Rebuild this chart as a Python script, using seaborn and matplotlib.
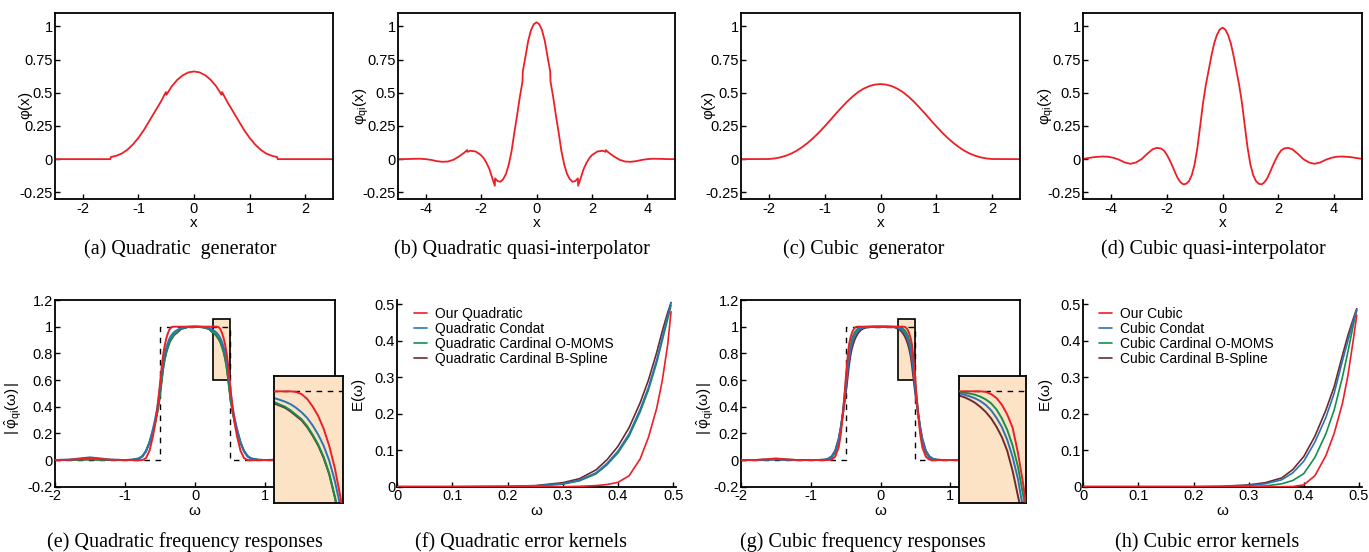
import numpy as np
import matplotlib
matplotlib.use("Agg")
import matplotlib.pyplot as plt
from matplotlib.patches import Rectangle
import seaborn as sns

X_QGEN = [0, 0.1, 0.2, 0.3, 0.4, 0.495, 0.505, 0.6, 0.7, 0.8, 0.9, 1.0, 1.1, 1.2, 1.3, 1.4, 1.495, 1.505, 2.5]
Y_QGEN = [0.66, 0.653, 0.632, 0.597, 0.548, 0.485, 0.505, 0.43, 0.36, 0.29, 0.22, 0.16, 0.11, 0.07, 0.042, 0.025, 0.016, 0.0, 0.0]

X_QQI = [0, 0.1, 0.2, 0.3, 0.4, 0.495, 0.505, 0.6, 0.7, 0.8, 0.9, 1.0, 1.1, 1.2, 1.3, 1.4, 1.495, 1.505,
         1.6, 1.7, 1.8, 1.9, 2.0, 2.2, 2.4, 2.495, 2.505, 2.6, 2.8, 3.0, 3.2, 3.4, 3.6, 3.8, 4.0, 4.2, 4.5, 4.8, 5.0]
Y_QQI = [1.03, 1.015, 0.97, 0.89, 0.77, 0.66, 0.585, 0.47, 0.33, 0.2, 0.06, -0.04, -0.11, -0.15, -0.17, -0.165, -0.145, -0.2,
         -0.14, -0.075, -0.03, 0.005, 0.03, 0.058, 0.063, 0.055, 0.068, 0.05, 0.02, -0.005, -0.018, -0.02, -0.015, -0.006, 0.0, 0.003, 0.002, 0.0, 0.0]

X_CGEN = [0, 0.1, 0.2, 0.3, 0.4, 0.5, 0.6, 0.7, 0.8, 0.9, 1.0, 1.1, 1.2, 1.3, 1.4, 1.5, 1.6, 1.7, 1.8, 1.9, 2.0, 2.5]
Y_CGEN = [0.565, 0.561, 0.55, 0.531, 0.505, 0.471, 0.432, 0.388, 0.342, 0.294, 0.247, 0.202, 0.161, 0.124, 0.092, 0.064,
          0.042, 0.025, 0.013, 0.005, 0.001, 0.0]

X_CQI = [0, 0.1, 0.2, 0.3, 0.4, 0.5, 0.6, 0.7, 0.8, 0.9, 1.0, 1.1, 1.2, 1.3, 1.4, 1.5, 1.6, 1.7, 1.8, 1.9, 2.0, 2.1, 2.2,
         2.35, 2.5, 2.7, 2.9, 3.1, 3.3, 3.5, 3.7, 3.9, 4.1, 4.3, 4.6, 5.0]
Y_CQI = [0.99, 0.975, 0.935, 0.87, 0.775, 0.665, 0.555, 0.42, 0.25, 0.085, -0.04, -0.12, -0.165, -0.185, -0.19, -0.175, -0.145,
         -0.1, -0.05, -0.005, 0.035, 0.065, 0.08, 0.085, 0.075, 0.04, 0.0, -0.025, -0.035, -0.025, -0.005, 0.01, 0.018, 0.02, 0.015, 0.002]

# ---- (e),(g) frequency responses |phi_qi(w)|, w >= 0 (even)
W_FREQ = [0, 0.1, 0.2, 0.25, 0.27, 0.29, 0.31, 0.33, 0.35, 0.37, 0.39, 0.41, 0.43, 0.45, 0.47, 0.49, 0.51, 0.54, 0.57,
          0.6, 0.65, 0.7, 0.75, 0.8, 0.9, 1.0, 1.2, 1.35, 1.5, 1.65, 1.8, 2.0]
Q_OURS = [1.0, 1.0, 1.0, 1.0, 1.0, 1.0, 1.0, 0.998, 0.99, 0.973, 0.946, 0.912, 0.866, 0.805, 0.727, 0.625, 0.52, 0.375, 0.265,
          0.18, 0.07, 0.015, 0.0, -0.002, 0.0, 0.0, 0.002, 0.008, 0.015, 0.008, 0.002, 0.0]
Q_CONDAT = [1.0, 0.999, 0.99, 0.976, 0.97, 0.963, 0.954, 0.941, 0.925, 0.905, 0.878, 0.845, 0.805, 0.752, 0.681, 0.59, 0.50,
            0.39, 0.305, 0.235, 0.135, 0.065, 0.027, 0.01, 0.001, 0.0, 0.003, 0.012, 0.02, 0.012, 0.003, 0.0]
Q_OMOMS = [1.0, 0.998, 0.985, 0.962, 0.953, 0.945, 0.932, 0.916, 0.90, 0.876, 0.845, 0.81, 0.765, 0.706, 0.625, 0.535, 0.45,
           0.355, 0.28, 0.22, 0.13, 0.068, 0.03, 0.012, 0.002, 0.0, 0.0, 0.002, 0.005, 0.002, 0.0, 0.0]
Q_BSPL = [1.0, 0.997, 0.982, 0.957, 0.949, 0.941, 0.928, 0.912, 0.896, 0.872, 0.841, 0.806, 0.761, 0.703, 0.622, 0.532, 0.448,
          0.353, 0.279, 0.22, 0.13, 0.068, 0.03, 0.012, 0.002, 0.0, 0.0, 0.002, 0.005, 0.002, 0.0, 0.0]

C_OURS = [1.0, 1.0, 1.0, 1.0, 1.0, 1.0, 1.0, 1.0, 0.998, 0.99, 0.976, 0.952, 0.917, 0.87, 0.78, 0.665, 0.525, 0.34, 0.19,
          0.095, 0.025, 0.003, 0.0, 0.0, 0.0, 0.0, 0.0, 0.005, 0.012, 0.005, 0.0, 0.0]
C_CONDAT = [1.0, 1.0, 0.998, 0.993, 0.988, 0.982, 0.975, 0.965, 0.951, 0.932, 0.905, 0.872, 0.826, 0.765, 0.686, 0.575, 0.47,
            0.345, 0.235, 0.15, 0.065, 0.025, 0.008, 0.002, 0.0, 0.0, 0.0, 0.002, 0.006, 0.002, 0.0, 0.0]
C_OMOMS = [1.0, 1.0, 0.999, 0.997, 0.995, 0.992, 0.988, 0.981, 0.971, 0.957, 0.935, 0.903, 0.862, 0.806, 0.73, 0.625, 0.51,
           0.36, 0.235, 0.14, 0.055, 0.018, 0.005, 0.001, 0.0, 0.0, 0.0, 0.002, 0.006, 0.002, 0.0, 0.0]
C_BSPL = [1.0, 0.999, 0.995, 0.985, 0.979, 0.97, 0.959, 0.944, 0.926, 0.903, 0.873, 0.836, 0.787, 0.715, 0.625, 0.535, 0.45,
          0.34, 0.245, 0.16, 0.07, 0.028, 0.01, 0.003, 0.0, 0.0, 0.0, 0.002, 0.005, 0.002, 0.0, 0.0]

# ideal low-pass response (dashed)
IDEAL_W = [-2, -0.5, -0.5, 0.5, 0.5, 2]
IDEAL_H = [0, 0, 1, 1, 0, 0]
ZOOM_W = (0.25, 0.5)
ZOOM_H = (0.6, 1.055)

# ---- (f),(h) error kernels E(w)
W_ERR = [0, 0.1, 0.2, 0.25, 0.3, 0.33, 0.36, 0.38, 0.40, 0.42, 0.44, 0.455, 0.47, 0.48, 0.49, 0.496]
EQ_OURS = [0, 0, 0, 0, 0.0, 0.001, 0.003, 0.006, 0.012, 0.03, 0.076, 0.135, 0.215, 0.29, 0.39, 0.48]
EQ_CONDAT = [0, 0, 0.0005, 0.002, 0.008, 0.018, 0.038, 0.064, 0.098, 0.145, 0.212, 0.272, 0.348, 0.408, 0.468, 0.505]
EQ_OMOMS = [0, 0, 0.0005, 0.002, 0.007, 0.016, 0.035, 0.06, 0.093, 0.139, 0.205, 0.265, 0.34, 0.4, 0.46, 0.497]
EQ_BSPL = [0, 0, 0.001, 0.003, 0.011, 0.022, 0.046, 0.074, 0.111, 0.162, 0.23, 0.292, 0.368, 0.426, 0.478, 0.505]

EC_OURS = [0, 0, 0, 0, 0, 0, 0, 0.0005, 0.005, 0.03, 0.085, 0.146, 0.228, 0.305, 0.405, 0.47]
EC_CONDAT = [0, 0, 0, 0.0005, 0.003, 0.008, 0.019, 0.038, 0.07, 0.122, 0.19, 0.256, 0.345, 0.40, 0.455, 0.485]
EC_OMOMS = [0, 0, 0, 0, 0.0005, 0.002, 0.008, 0.017, 0.036, 0.08, 0.145, 0.21, 0.3, 0.37, 0.445, 0.484]
EC_BSPL = [0, 0, 0, 0.001, 0.005, 0.011, 0.024, 0.047, 0.083, 0.138, 0.21, 0.274, 0.36, 0.415, 0.462, 0.488]

Q_NAMES = ["Our Quadratic", "Quadratic Condat", "Quadratic Cardinal O-MOMS", "Quadratic Cardinal B-Spline"]
C_NAMES = ["Our Cubic", "Cubic Condat", "Cubic Cardinal O-MOMS", "Cubic Cardinal B-Spline"]

RED, BLUE, GREEN, BROWN = "#EC1F26", "#2B73B3", "#13914B", "#6D2B30"
COLORS = [RED, BLUE, GREEN, BROWN]
ZORDERS = [2.6, 2.4, 2.3, 2.2]
PEACH = "#FDE3C6"

sns.set_theme(style="ticks")
plt.rcParams["font.family"] = ["Liberation Sans", "DejaVu Sans"]
plt.rcParams.update({
    "mathtext.fontset": "custom",
    "mathtext.rm": "Liberation Sans",
    "mathtext.it": "Liberation Sans",
    "axes.unicode_minus": False,
    "axes.edgecolor": "black",
    "axes.linewidth": 1.3,
    "axes.labelcolor": "black",
    "text.color": "black",
    "xtick.color": "black",
    "ytick.color": "black",
})

W, H = 1369, 552
fig = plt.figure(figsize=(W / 100, H / 100), dpi=100)


def add_px_axes(x0, x1, y0, y1):
    return fig.add_axes([x0 / W, (H - y1) / H, (x1 - x0) / W, (y1 - y0) / H])


def mirror(x, y):
    x, y = np.asarray(x, float), np.asarray(y, float)
    return np.concatenate([-x[::-1], x[1:]]), np.concatenate([y[::-1], y[1:]])


def style_axes(ax, ylab, ylab_x, ylab_y=0.5, box=True):
    ax.tick_params(direction="in", length=3.5, width=1, labelsize=10.5, top=False, right=False)
    ax.tick_params(axis="x", pad=2.0)
    ax.tick_params(axis="y", pad=1.5)
    ax.spines["top"].set_visible(box)
    ax.spines["right"].set_visible(box)
    ax.set_ylabel(ylab, fontsize=11)
    ax.yaxis.set_label_coords(ylab_x, ylab_y)
    ax.yaxis.label.set_va("center")


def set_xlab(ax, text):
    ax.set_xlabel(text, fontsize=11)
    ax.xaxis.set_label_coords(0.5, -0.128)
    ax.xaxis.label.set_va("center")


def caption(xc, ybase, text):
    fig.text(xc / W, (H - ybase) / H, text, ha="center", va="baseline",
             family=["Liberation Serif", "DejaVu Serif"], fontsize=14.5)


# ---------------- top row: kernels ----------------
top = [
    (X_QGEN, Y_QGEN, (55, 333), 2.5, [-2, -1, 0, 1, 2], r"$\varphi(x)$", -0.106, 180, "(a) Quadratic  generator"),
    (X_QQI, Y_QQI, (398, 675), 5, [-4, -2, 0, 2, 4], r"$\varphi_{qi}(x)$", -0.134, 522, "(b) Quadratic quasi-interpolator"),
    (X_CGEN, Y_CGEN, (741, 1020), 2.5, [-2, -1, 0, 1, 2], r"$\varphi(x)$", -0.115, 864, "(c) Cubic  generator"),
    (X_CQI, Y_CQI, (1083, 1362), 5, [-4, -2, 0, 2, 4], r"$\varphi_{qi}(x)$", -0.133, 1213, "(d) Cubic quasi-interpolator"),
]
KERNEL_YT = [-0.25, 0, 0.25, 0.5, 0.75, 1]
KERNEL_YL = ["-0.25", "0", "0.25", "0.5", "0.75", "1"]

for xs, ys, (x0, x1), xmax, xt, ylab, labx, capx, cap in top:
    ax = add_px_axes(x0, x1, 13, 199)
    xm, ym = mirror(xs, ys)
    sns.lineplot(x=xm, y=ym, ax=ax, color=RED, lw=1.3, sort=False, estimator=None)
    ax.set_xlim(-xmax, xmax)
    ax.set_ylim(-0.3, 1.1)
    ax.set_xticks(xt, labels=[str(v) for v in xt])
    ax.set_yticks(KERNEL_YT, labels=KERNEL_YL)
    style_axes(ax, ylab, labx)
    set_xlab(ax, "x")
    caption(capx, 254, cap)

# ---------------- bottom row ----------------
FREQ_XT = [-2, -1, 0, 1, 2]
FREQ_YT = [-0.2, 0, 0.2, 0.4, 0.6, 0.8, 1, 1.2]
ERR_T = [0, 0.1, 0.2, 0.3, 0.4, 0.5]


def freq_panel(x0, x1, inset_px, series, labx, capx, cap):
    ax = add_px_axes(x0, x1, 300, 486.7)
    sns.lineplot(x=IDEAL_W, y=IDEAL_H, ax=ax, color="black", lw=1.0, linestyle=(0, (4, 4)),
                 sort=False, estimator=None, zorder=1.8)
    for vals, col, z in zip(series, COLORS, ZORDERS):
        wm, vm = mirror(W_FREQ, vals)
        sns.lineplot(x=wm, y=vm, ax=ax, color=col, lw=1.4, sort=False, estimator=None, zorder=z)
    ax.add_patch(Rectangle((ZOOM_W[0], ZOOM_H[0]), ZOOM_W[1] - ZOOM_W[0], ZOOM_H[1] - ZOOM_H[0],
                           facecolor=PEACH, edgecolor="black", lw=1.2, zorder=1.5))
    ax.set_xlim(-2, 2)
    ax.set_ylim(-0.2, 1.2)
    ax.set_xticks(FREQ_XT, labels=[str(v) for v in FREQ_XT])
    ax.set_yticks(FREQ_YT, labels=["-0.2", "0", "0.2", "0.4", "0.6", "0.8", "1", "1.2"])
    style_axes(ax, r"$|\,\hat{\varphi}_{qi}(\omega)\,|$", labx, 0.42)
    set_xlab(ax, r"$\omega$")

    ins = add_px_axes(*inset_px)
    ins.set_facecolor(PEACH)
    sns.lineplot(x=IDEAL_W, y=IDEAL_H, ax=ins, color="black", lw=1.0, linestyle=(0, (4, 4)),
                 sort=False, estimator=None, zorder=1.8)
    for vals, col, z in zip(series, COLORS, ZORDERS):
        sns.lineplot(x=W_FREQ, y=vals, ax=ins, color=col, lw=1.4, sort=False, estimator=None, zorder=z)
    ins.set_xlim(*ZOOM_W)
    ins.set_ylim(*ZOOM_H)
    ins.set_xticks([])
    ins.set_yticks([])
    ins.set_xlabel("")
    ins.set_ylabel("")
    for s in ins.spines.values():
        s.set_linewidth(1.3)
        s.set_visible(True)
    caption(capx, 547, cap)


def err_panel(x0, x1, series, names, leg_x, labx, capx, cap):
    ax = add_px_axes(x0, x1, 300, 486.7)
    for vals, col, z, name in zip(series, COLORS, ZORDERS, names):
        sns.lineplot(x=W_ERR, y=vals, ax=ax, color=col, lw=1.2, sort=False, estimator=None, zorder=z, label=name)
    ax.set_xlim(0, 0.505)
    ax.set_ylim(0, 0.512)
    ax.set_xticks(ERR_T, labels=["0", "0.1", "0.2", "0.3", "0.4", "0.5"])
    ax.set_yticks(ERR_T, labels=["0", "0.1", "0.2", "0.3", "0.4", "0.5"])
    style_axes(ax, r"$E(\omega)$", labx, 0.49, box=False)
    set_xlab(ax, r"$\omega$")
    ax.legend(loc="upper left", bbox_to_anchor=(leg_x, 0.965), frameon=False, fontsize=10,
              handlelength=0.95, handletextpad=0.55, labelspacing=0.08, borderpad=0, borderaxespad=0)
    caption(capx, 547, cap)


freq_panel(55, 335, (274, 343, 376, 503), [Q_OURS, Q_CONDAT, Q_OMOMS, Q_BSPL], -0.15, 185,
           "(e) Quadratic frequency responses")
err_panel(397.3, 676, [EQ_OURS, EQ_CONDAT, EQ_OMOMS, EQ_BSPL], Q_NAMES, 0.06, -0.137, 521,
          "(f) Quadratic error kernels")
freq_panel(741, 1020, (959, 1026, 376, 503), [C_OURS, C_CONDAT, C_OMOMS, C_BSPL], -0.129, 863,
           "(g) Cubic frequency responses")
err_panel(1083.3, 1361.7, [EC_OURS, EC_CONDAT, EC_OMOMS, EC_BSPL], C_NAMES, 0.056, -0.134, 1207,
          "(h) Cubic error kernels")

fig.savefig("out.png", dpi=100)
